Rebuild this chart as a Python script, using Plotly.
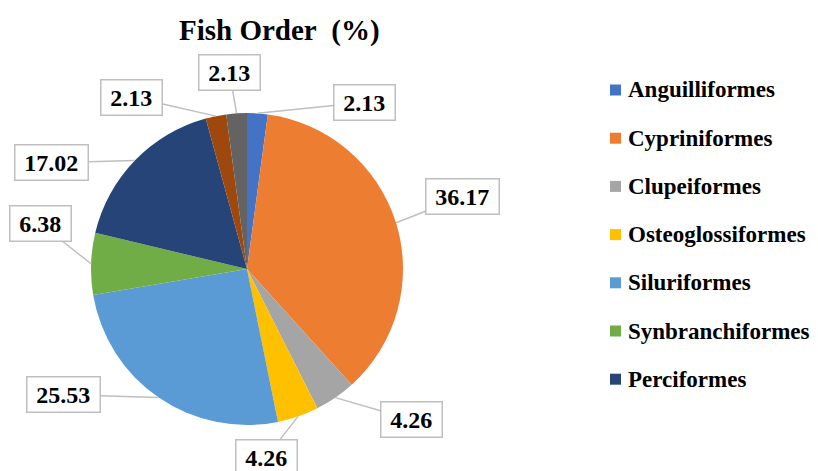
import math
import plotly.graph_objects as go

# ---- data ----
slice_labels = ["Anguilliformes", "Cypriniformes", "Clupeiformes", "Osteoglossiformes",
                "Siluriformes", "Synbranchiformes", "Perciformes", "Other A", "Other B"]
slice_values = [2.13, 36.17, 4.26, 4.26, 25.53, 6.38, 17.02, 2.13, 2.13]
legend_labels = ["Anguilliformes", "Cypriniformes", "Clupeiformes", "Osteoglossiformes",
                 "Siluriformes", "Synbranchiformes", "Perciformes"]
slice_colors = ["#4472C4", "#ED7D31", "#A5A5A5", "#FFC000", "#5B9BD5",
                "#70AD47", "#264478", "#9E480E", "#636363"]

# ---- layout constants ----
OFF = 8  # page body margin
W, H = 818 - OFF, 471 - OFF
cx, cy, r = 247 - OFF, 269 - OFF, 156
FONT = "Liberation Serif, Times New Roman, serif"
NB = "\u00a0"
TS = "\u2009"
# label box offsets (pixels) from slice edge midpoint
label_offsets = [(107, -11), (67, -26), (76, 22), (-32, 41), (-95, -3),
                 (-51, -40), (-83, 2), (-84, -19), (-7, -41)]

fig = go.Figure()
fig.add_trace(go.Pie(
    labels=slice_labels, values=slice_values, sort=False, direction="clockwise",
    rotation=0, marker=dict(colors=slice_colors, line=dict(width=0)),
    textinfo="none", showlegend=False,
    domain=dict(x=[(cx - r) / W, (cx + r) / W], y=[1 - (cy + r) / H, 1 - (cy - r) / H]),
))

total = sum(slice_values)
annotations = []
cum = 0.0
for v, (ax, ay) in zip(slice_values, label_offsets):
    mid = (cum + v / 2) / total * 2 * math.pi
    cum += v
    px = cx + r * math.sin(mid)
    py = cy - r * math.cos(mid)
    annotations.append(dict(
        x=px / W, y=1 - py / H, xref="paper", yref="paper",
        ax=ax, ay=ay, showarrow=True, arrowhead=0, arrowwidth=1.5,
        arrowcolor="#BFBFBF", standoff=0,
        text=TS + "<b>%.2f</b>" % v + TS, font=dict(family=FONT, size=24, color="black"),
        bordercolor="#BFBFBF", borderwidth=1.5, borderpad=4, bgcolor="white",
    ))

shapes = []
for i, (name, col) in enumerate(zip(legend_labels, slice_colors)):
    yc = 90 + i * 48.2 - OFF
    shapes.append(dict(type="rect", xref="paper", yref="paper",
                       x0=(610 - OFF) / W, x1=(621 - OFF) / W,
                       y0=1 - (yc + 5.5) / H, y1=1 - (yc - 5.5) / H,
                       fillcolor=col, line=dict(width=0)))
    annotations.append(dict(x=(626 - OFF) / W, y=1 - yc / H, xref="paper", yref="paper",
                            xanchor="left", yanchor="middle", showarrow=False,
                            text="<b>%s</b>" % name,
                            font=dict(family=FONT, size=23, color="black")))

annotations.append(dict(x=(279 - OFF) / W, y=1 - (30 - OFF) / H, xref="paper", yref="paper",
                        xanchor="center", yanchor="middle", showarrow=False,
                        text="<b>Fish Order" + NB + NB + "(%)</b>",
                        font=dict(family=FONT, size=29, color="black")))

fig.update_layout(width=W, height=H, margin=dict(l=0, r=0, t=0, b=0),
                  paper_bgcolor="white", plot_bgcolor="white",
                  annotations=annotations, shapes=shapes)
fig.write_html("out.html")
